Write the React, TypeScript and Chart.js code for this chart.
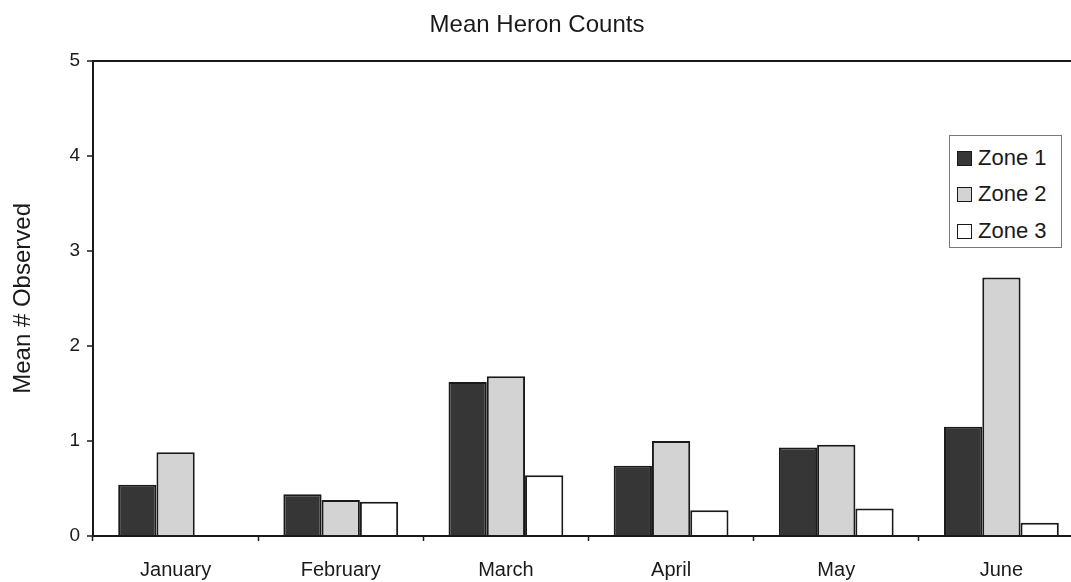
import React, { useEffect, useRef } from 'react';
import { Chart, registerables } from 'chart.js';

Chart.register(...registerables);

const categories = ['January', 'February', 'March', 'April', 'May', 'June'];
const zone1 = [0.54, 0.44, 1.62, 0.74, 0.93, 1.15];
const zone2 = [0.88, 0.38, 1.68, 1.0, 0.96, 2.72];
const zone3 = [0, 0.36, 0.64, 0.27, 0.29, 0.14];
const seriesNames = ['Zone 1', 'Zone 2', 'Zone 3'];
const seriesColors = ['#363636', '#d3d3d3', '#ffffff'];
const yTicks = [0, 1, 2, 3, 4, 5];
const chartTitle = 'Mean Heron Counts';
const yTitle = 'Mean # Observed';

const FONT = "'Liberation Sans', Arial, sans-serif";
const INK = '#1a1a1a';

export default function App() {
  const ref = useRef<HTMLCanvasElement>(null);

  useEffect(() => {
    const series = [zone1, zone2, zone3];
    const chart = new Chart(ref.current as HTMLCanvasElement, {
      type: 'bar',
      data: {
        labels: categories,
        datasets: series.map((d, i) => ({
          label: seriesNames[i],
          data: d,
          backgroundColor: seriesColors[i],
          borderColor: INK,
          borderWidth: 2,
          categoryPercentage: 0.695,
          barPercentage: 1,
        })),
      },
      options: {
        responsive: true,
        maintainAspectRatio: false,
        animation: false,
        layout: { padding: { left: 0, right: 0, top: 0, bottom: 0 } },
        plugins: {
          legend: { display: false },
          tooltip: { enabled: false },
          title: {
            display: true,
            text: chartTitle,
            color: INK,
            font: { family: FONT, size: 24, weight: 'normal' },
            padding: { top: 11, bottom: 21 },
          },
        },
        scales: {
          x: {
            grid: {
              display: true,
              drawOnChartArea: false,
              drawTicks: true,
              tickLength: 5,
              tickColor: INK,
              tickWidth: 1.5,
            },
            border: { display: true, color: INK, width: 2 },
            ticks: {
              color: INK,
              font: { family: FONT, size: 20 },
              padding: 17,
              maxRotation: 0,
            },
            afterFit: (scale: any) => {
              scale.height = 46;
            },
          },
          y: {
            min: yTicks[0],
            max: yTicks[yTicks.length - 1],
            afterBuildTicks: (scale: any) => {
              scale.ticks = yTicks.map((v) => ({ value: v }));
            },
            grid: {
              display: true,
              drawOnChartArea: true,
              drawTicks: true,
              tickLength: 6,
              tickColor: INK,
              tickWidth: 1.5,
              lineWidth: 2,
              color: (ctx: any) =>
                ctx.tick && ctx.tick.value === yTicks[yTicks.length - 1] ? INK : 'rgba(0,0,0,0)',
            },
            border: { display: true, color: INK, width: 2 },
            ticks: {
              color: INK,
              font: { family: FONT, size: 19 },
              padding: 7,
            },
            title: {
              display: true,
              text: yTitle,
              color: INK,
              font: { family: FONT, size: 24 },
              padding: { top: 19, bottom: 0 },
            },
            afterFit: (scale: any) => {
              scale.width = 103;
            },
          },
        },
      },
    });
    return () => chart.destroy();
  }, []);

  const rowTops = [22, 58, 95];

  return (
    <div
      style={{
        position: 'fixed',
        left: 0,
        top: 0,
        width: 1071,
        height: 582,
        overflow: 'hidden',
        background: '#ffffff',
      }}
    >
      <div style={{ position: 'absolute', left: -10, top: 0, width: 1094, height: 582 }}>
        <canvas ref={ref} />
      </div>
      <div
        style={{
          position: 'absolute',
          left: 949,
          top: 135,
          width: 113,
          height: 113,
          border: '1.5px solid #777',
          boxSizing: 'border-box',
          background: '#ffffff',
          fontFamily: FONT,
          color: INK,
        }}
      >
        {seriesNames.map((name, i) => (
          <div
            key={name}
            style={{
              position: 'absolute',
              left: 7,
              top: rowTops[i] - 14,
              height: 28,
              display: 'flex',
              alignItems: 'center',
              whiteSpace: 'nowrap',
            }}
          >
            <span
              style={{
                display: 'inline-block',
                width: 15,
                height: 15,
                border: '1.5px solid ' + INK,
                background: seriesColors[i],
                boxSizing: 'border-box',
                marginRight: 6,
              }}
            />
            <span style={{ fontSize: 22, lineHeight: '28px' }}>{name}</span>
          </div>
        ))}
      </div>
    </div>
  );
}
